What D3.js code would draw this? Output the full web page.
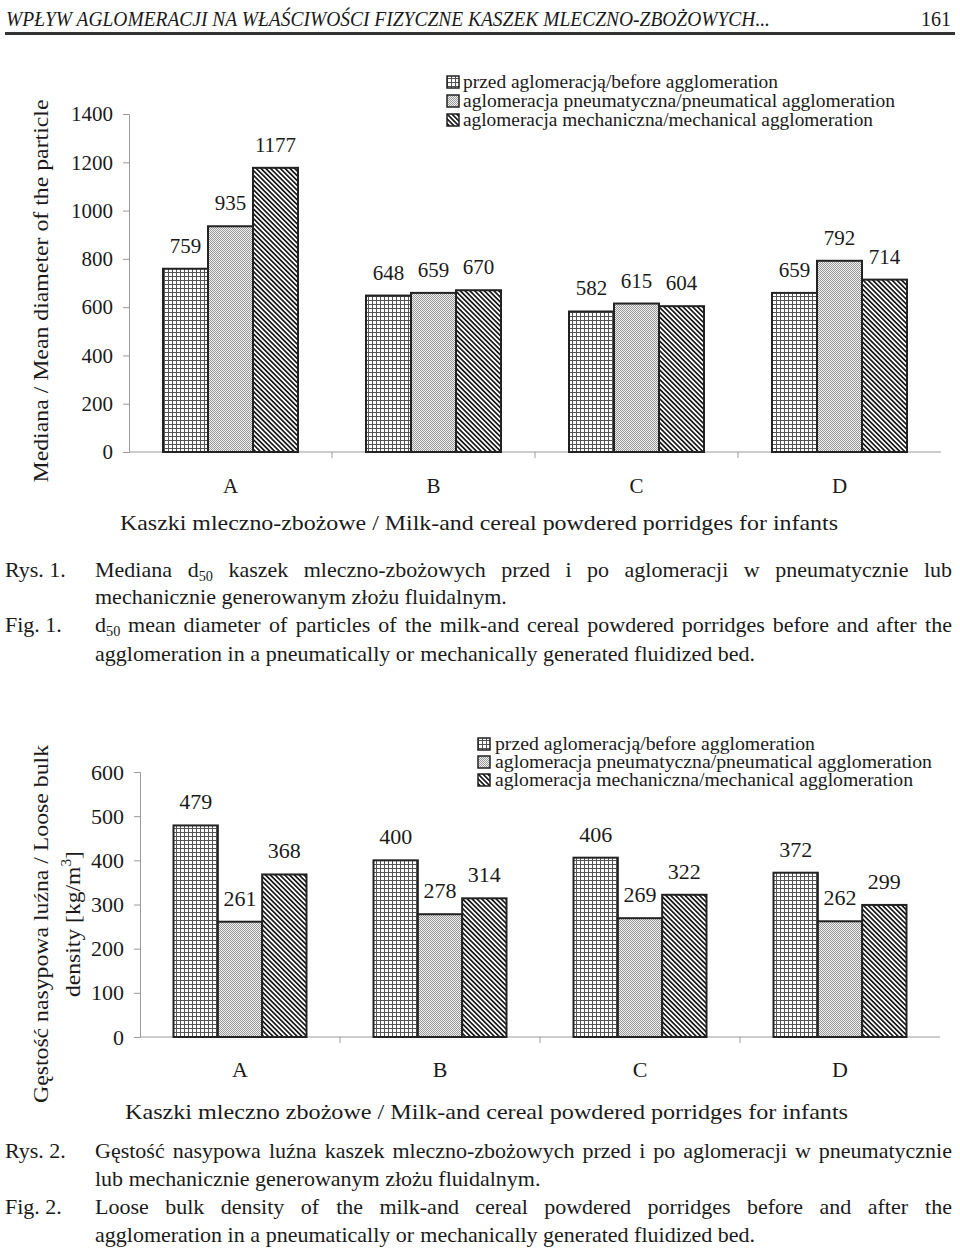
<!DOCTYPE html>
<html>
<head>
<meta charset="utf-8">
<script src="https://cdn.jsdelivr.net/npm/d3@7"></script>
<style>
  html, body { margin: 0; padding: 0; background: #fff; }
  svg { display: block; }
  text { font-family: "Liberation Serif", "Times New Roman", serif; fill: #1a1a1a; }
</style>
</head>
<body>
<script>
// ---------------- DATA ----------------
const categories = ["A", "B", "C", "D"];
const seriesNames = [
  "przed aglomeracją/before agglomeration",
  "aglomeracja pneumatyczna/pneumatical agglomeration",
  "aglomeracja mechaniczna/mechanical agglomeration"
];
// Fig. 1: median d50 (µm)
const medianBefore = [759, 648, 582, 659];
const medianPneumatic = [935, 659, 615, 792];
const medianMechanical = [1177, 670, 604, 714];
const medianTicks = [0, 200, 400, 600, 800, 1000, 1200, 1400];
// Fig. 2: loose bulk density (kg/m3)
const densityBefore = [479, 400, 406, 372];
const densityPneumatic = [261, 278, 269, 262];
const densityMechanical = [368, 314, 322, 299];
const densityTicks = [0, 100, 200, 300, 400, 500, 600];

const W = 960, H = 1252;
const svg = d3.select("body").append("svg").attr("width", W).attr("height", H);
const defs = svg.append("defs");

// ---------------- PATTERNS ----------------
const pGrid = defs.append("pattern").attr("id", "pGrid").attr("patternUnits", "userSpaceOnUse")
  .attr("width", 4).attr("height", 4);
pGrid.append("rect").attr("width", 4).attr("height", 4).attr("fill", "#fff");
pGrid.append("rect").attr("x", 0).attr("y", 0).attr("width", 4).attr("height", 1).attr("fill", "#555");
pGrid.append("rect").attr("x", 0).attr("y", 0).attr("width", 1).attr("height", 4).attr("fill", "#555");

const pDots = defs.append("pattern").attr("id", "pDots").attr("patternUnits", "userSpaceOnUse")
  .attr("width", 2).attr("height", 2);
pDots.append("rect").attr("width", 2).attr("height", 2).attr("fill", "#f0f0f0");
pDots.append("rect").attr("x", 0).attr("y", 0).attr("width", 1).attr("height", 1).attr("fill", "#999");
pDots.append("rect").attr("x", 1).attr("y", 1).attr("width", 1).attr("height", 1).attr("fill", "#999");

const pHatch = defs.append("pattern").attr("id", "pHatch").attr("patternUnits", "userSpaceOnUse")
  .attr("width", 3.4).attr("height", 10).attr("patternTransform", "rotate(-45)");
pHatch.append("rect").attr("width", 3.4).attr("height", 10).attr("fill", "#fff");
pHatch.append("rect").attr("x", 0).attr("y", 0).attr("width", 1.7).attr("height", 10).attr("fill", "#1a1a1a");

const fills = ["url(#pGrid)", "url(#pDots)", "url(#pHatch)"];

// ---------------- HEADER ----------------
svg.append("text").attr("x", 6).attr("y", 26)
  .attr("font-size", 21).attr("font-style", "italic")
  .attr("textLength", 764).attr("lengthAdjust", "spacingAndGlyphs")
  .text("WPŁYW AGLOMERACJI NA WŁAŚCIWOŚCI FIZYCZNE KASZEK MLECZNO-ZBOŻOWYCH...");
svg.append("text").attr("x", 951).attr("y", 26).attr("text-anchor", "end")
  .attr("font-size", 22).attr("textLength", 30).attr("lengthAdjust", "spacingAndGlyphs").text("161");
svg.append("rect").attr("x", 5).attr("y", 32).attr("width", 950).attr("height", 3).attr("fill", "#333");

// ---------------- CHART BUILDER ----------------
function drawChart(cfg) {
  const g = svg.append("g");
  const x = d3.scaleBand().domain(categories).range([cfg.x0, cfg.x1]).padding(0);
  const bw = x.bandwidth();
  const gw = bw * 0.665;
  const xs = d3.scaleBand().domain(d3.range(3)).range([(bw - gw) / 2, (bw + gw) / 2]).padding(0);
  const y = d3.scaleLinear().domain([0, cfg.ymax]).range([cfg.y0, cfg.y1]);

  // y axis
  const yAxis = d3.axisLeft(y).tickValues(cfg.ticks).tickSize(6).tickPadding(10).tickFormat(d3.format("d"));
  const ya = g.append("g").attr("transform", `translate(${cfg.x0},0)`).call(yAxis);
  ya.select(".domain").attr("stroke", "#9a9a9a").attr("stroke-width", 1);
  ya.selectAll(".tick line").attr("stroke", "#9a9a9a");
  ya.selectAll(".tick text").attr("font-family", "Liberation Serif, serif").attr("font-size", cfg.fs)
    .attr("fill", "#1a1a1a");

  // x baseline + boundary ticks
  g.append("line").attr("x1", cfg.x0).attr("x2", cfg.x1).attr("y1", y(0)).attr("y2", y(0))
    .attr("stroke", "#9a9a9a").attr("stroke-width", 1);
  g.selectAll(".xt").data(categories.slice(1)).enter().append("line")
    .attr("x1", d => x(d)).attr("x2", d => x(d))
    .attr("y1", y(0)).attr("y2", y(0) + 6).attr("stroke", "#9a9a9a");

  // bars
  const rows = [];
  categories.forEach((c, i) => {
    cfg.series.forEach((arr, s) => rows.push({ c, s, v: arr[i] }));
  });
  g.selectAll(".bar").data(rows).enter().append("rect")
    .attr("x", d => x(d.c) + xs(d.s))
    .attr("y", d => y(d.v))
    .attr("width", xs.bandwidth())
    .attr("height", d => y(0) - y(d.v))
    .attr("fill", d => fills[d.s])
    .attr("stroke", "#222").attr("stroke-width", 2);

  g.selectAll(".val").data(rows).enter().append("text")
    .attr("x", d => x(d.c) + xs(d.s) + xs.bandwidth() / 2)
    .attr("y", d => y(d.v) - 16)
    .attr("text-anchor", "middle").attr("font-size", cfg.fs)
    .text(d => d.v);

  // category labels
  g.selectAll(".cat").data(categories).enter().append("text")
    .attr("x", d => x(d) + bw / 2).attr("y", cfg.catY)
    .attr("text-anchor", "middle").attr("font-size", cfg.fs).text(d => d);

  // x title
  g.append("text").attr("x", cfg.xtX).attr("y", cfg.xtY).attr("font-size", cfg.fs)
    .attr("textLength", cfg.xtLen).attr("lengthAdjust", "spacingAndGlyphs").text(cfg.xTitle);

  // y title (rotated)
  cfg.yTitle.forEach((t, i) => {
    const tt = g.append("text")
      .attr("transform", `translate(${t.x},${cfg.ytCenter}) rotate(-90)`)
      .attr("text-anchor", "middle").attr("font-size", cfg.ytFs)
      .attr("textLength", t.len).attr("lengthAdjust", "spacingAndGlyphs");
    t.parts.forEach(p => {
      const ts = tt.append("tspan").text(p.t);
      if (p.sup) ts.attr("font-size", cfg.ytFs * 0.65).attr("dy", -9);
      if (p.after) ts.attr("dy", 9);
    });
  });

  // legend
  const lg = g.append("g").attr("transform", `translate(${cfg.lgX},${cfg.lgY})`);
  seriesNames.forEach((n, i) => {
    const row = lg.append("g").attr("transform", `translate(0,${i * cfg.lgStep})`);
    row.append("rect").attr("x", 0).attr("y", -6).attr("width", 12).attr("height", 12)
      .attr("fill", fills[i]).attr("stroke", "#222").attr("stroke-width", 1.5);
    row.append("text").attr("x", cfg.lgTx).attr("y", 6).attr("font-size", cfg.lgFs)
      .attr("textLength", cfg.lgLens[i]).attr("lengthAdjust", "spacingAndGlyphs").text(n);
  });
}

drawChart({
  x0: 129, x1: 941, y0: 452, y1: 114, ymax: 1400, ticks: medianTicks, fs: 21,
  series: [medianBefore, medianPneumatic, medianMechanical],
  catY: 493, xtX: 120, xtY: 530, xtLen: 718,
  xTitle: "Kaszki mleczno-zbożowe / Milk-and cereal powdered porridges for infants",
  ytCenter: 291, ytFs: 22,
  yTitle: [{ x: 48, len: 383, parts: [{ t: "Mediana / Mean diameter of the particle" }] }],
  lgX: 447, lgY: 82, lgStep: 19, lgTx: 16, lgFs: 18, lgLens: [315, 432, 410]
});

drawChart({
  x0: 140, x1: 940, y0: 1037, y1: 772, ymax: 600, ticks: densityTicks, fs: 22,
  series: [densityBefore, densityPneumatic, densityMechanical],
  catY: 1077, xtX: 125, xtY: 1119, xtLen: 723,
  xTitle: "Kaszki mleczno zbożowe / Milk-and cereal powdered porridges for infants",
  ytCenter: 924, ytFs: 22,
  yTitle: [
    { x: 48, len: 358, parts: [{ t: "Gęstość nasypowa luźna / Loose bulk" }] },
    { x: 80, len: 146, parts: [{ t: "density [kg/m" }, { t: "3", sup: true }, { t: "]", after: true }] }
  ],
  lgX: 478, lgY: 744, lgStep: 18, lgTx: 17, lgFs: 18, lgLens: [320, 437, 418]
});

// ---------------- CAPTIONS ----------------
const CAP_FS = 22;
function placeWords(y, words, x0, x1, justify) {
  const els = words.map(w => {
    const t = svg.append("text").attr("y", y).attr("font-size", CAP_FS);
    (Array.isArray(w) ? w : [{ t: w }]).forEach(p => {
      const ts = t.append("tspan").text(p.t);
      if (p.sub) ts.attr("font-size", CAP_FS * 0.65).attr("dy", 4);
    });
    return t;
  });
  const widths = els.map(e => e.node().getBBox().width);
  const total = d3.sum(widths);
  const gap = justify ? (x1 - x0 - total) / (els.length - 1) : CAP_FS * 0.25;
  let cx = x0;
  els.forEach((e, i) => { e.attr("x", cx); cx += widths[i] + gap; });
}
function caption(y, label) {
  svg.append("text").attr("x", 5).attr("y", y).attr("font-size", CAP_FS).text(label);
}
const d50 = [{ t: "d" }, { t: "50", sub: true }];
const cap = [
  { y: 577, label: "Rys. 1.", words: ["Mediana", d50, "kaszek", "mleczno-zbożowych", "przed", "i", "po", "aglomeracji", "w", "pneumatycznie", "lub"], j: true },
  { y: 604, words: "mechanicznie generowanym złożu fluidalnym.".split(" "), j: false },
  { y: 632, label: "Fig. 1.", words: [d50, ..."mean diameter of particles of the milk-and cereal powdered porridges before and after the".split(" ")], j: true },
  { y: 661, words: "agglomeration in a pneumatically or mechanically generated fluidized bed.".split(" "), j: false },
  { y: 1158, label: "Rys. 2.", words: "Gęstość nasypowa luźna kaszek mleczno-zbożowych przed i po aglomeracji w pneumatycznie".split(" "), j: true },
  { y: 1186, words: "lub mechanicznie generowanym złożu fluidalnym.".split(" "), j: false },
  { y: 1214, label: "Fig. 2.", words: "Loose bulk density of the milk-and cereal powdered porridges before and after the".split(" "), j: true },
  { y: 1242, words: "agglomeration in a pneumatically or mechanically generated fluidized bed.".split(" "), j: false }
];
cap.forEach(c => {
  if (c.label) caption(c.y, c.label);
  placeWords(c.y, c.words, 95, 952, c.j);
});
</script>
</body>
</html>
